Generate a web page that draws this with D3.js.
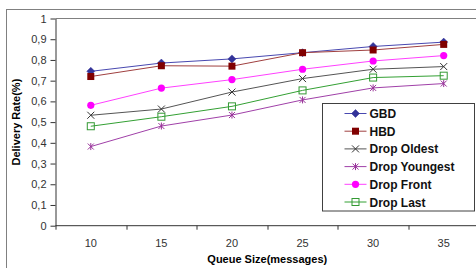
<!DOCTYPE html>
<html>
<head>
<meta charset="utf-8">
<script src="https://cdn.jsdelivr.net/npm/d3@7"></script>
<style>
  body { margin: 0; background: #fff; }
  svg { display: block; font-family: "Liberation Sans", Arial, sans-serif; }
</style>
</head>
<body>
<div id="chart"></div>
<script>
// chart data
const queueSizes = [10, 15, 20, 25, 30, 35];
const yTicks = [0, 0.1, 0.2, 0.3, 0.4, 0.5, 0.6, 0.7, 0.8, 0.9, 1];
const seriesNames = ["GBD", "HBD", "Drop Oldest", "Drop Youngest", "Drop Front", "Drop Last"];
const gbd = [0.745, 0.785, 0.805, 0.835, 0.865, 0.886];
const hbd = [0.72, 0.772, 0.77, 0.835, 0.848, 0.875];
const dropOldest = [0.533, 0.563, 0.645, 0.71, 0.755, 0.768];
const dropYoungest = [0.382, 0.481, 0.534, 0.607, 0.665, 0.686];
const dropFront = [0.581, 0.664, 0.705, 0.755, 0.795, 0.821];
const dropLast = [0.48, 0.526, 0.576, 0.653, 0.715, 0.724];

const seriesValues = [gbd, hbd, dropOldest, dropYoungest, dropFront, dropLast];
const styles = [
    {line: "#4848b0", fill: "#333399", stroke: "#333399", shape: "diamond"},
    {line: "#a04040", fill: "#800000", stroke: "#800000", shape: "square"},
    {line: "#555555", fill: "none", stroke: "#333333", shape: "x"},
    {line: "#a040a8", fill: "none", stroke: "#993399", shape: "star"},
    {line: "#ff40ff", fill: "#ff00ff", stroke: "#ff00ff", shape: "circle"},
    {line: "#33a033", fill: "#fff", stroke: "#339933", shape: "hollow"}
];

const width = 476, height = 268;
const margin = {top: 18.5, left: 55.5, right: -3, bottom: 42};

const svg = d3.select("#chart").append("svg")
    .attr("width", width)
    .attr("height", height);

// outer chart frame
svg.append("rect")
    .attr("x", 6.5).attr("y", 9.5)
    .attr("width", 500).attr("height", 300)
    .attr("fill", "#fff")
    .attr("stroke", "#808080");

const plotW = width - margin.left - margin.right;
const plotH = 225.7 - margin.top;

const g = svg.append("g")
    .attr("transform", "translate(" + margin.left + "," + margin.top + ")");

const xScale = d3.scaleBand().domain(queueSizes).range([0, plotW]);
const yScale = d3.scaleLinear().domain([0, 1]).range([plotH, 0]);

// plot area top border
g.append("line")
    .attr("x1", 0).attr("x2", plotW)
    .attr("y1", 0).attr("y2", 0)
    .attr("stroke", "#808080");

// y axis
const yAxis = g.append("g")
    .call(d3.axisLeft(yScale).tickValues(yTicks).tickSize(5).tickSizeOuter(0)
        .tickFormat(d => d3.format("")(d).replace(".", ",")));
yAxis.select(".domain").attr("stroke", "#333");
yAxis.selectAll(".tick line").attr("stroke", "#333");
yAxis.selectAll("text")
    .attr("x", -9)
    .attr("font-size", 11)
    .attr("font-family", "Liberation Sans, Arial, sans-serif")
    .attr("fill", "#333");

// x axis: ticks between categories
const xAxisG = g.append("g")
    .attr("transform", "translate(0," + plotH + ")");
xAxisG.append("line")
    .attr("x1", 0).attr("x2", plotW)
    .attr("stroke", "#333");
const bounds = queueSizes.map(d => xScale(d)).concat([plotW]);
xAxisG.selectAll(".xtick")
    .data(bounds)
    .join("line")
    .attr("class", "xtick")
    .attr("x1", d => Math.round(d) + 0.5).attr("x2", d => Math.round(d) + 0.5)
    .attr("y1", 0).attr("y2", 4)
    .attr("stroke", "#333");
xAxisG.selectAll(".xlabel")
    .data(queueSizes)
    .join("text")
    .attr("class", "xlabel")
    .attr("x", d => xScale(d) + xScale.bandwidth() / 2)
    .attr("y", 21)
    .attr("text-anchor", "middle")
    .attr("font-size", 11)
    .attr("fill", "#333")
    .text(d => d);

// axis titles
svg.append("text")
    .attr("x", margin.left + plotW / 2)
    .attr("y", 263)
    .attr("text-anchor", "middle")
    .attr("font-size", 11)
    .attr("font-weight", "bold")
    .text("Queue Size(messages)");

svg.append("text")
    .attr("transform", "translate(20," + (margin.top + plotH / 2) + ") rotate(-90)")
    .attr("text-anchor", "middle")
    .attr("font-size", 11)
    .attr("font-weight", "bold")
    .text("Delivery Rate(%)");

// marker drawing
function drawMarker(sel, st) {
    if (st.shape === "diamond") {
        sel.append("path").attr("d", "M0,-4L4,0L0,4L-4,0Z")
            .attr("fill", st.fill).attr("stroke", st.stroke).attr("stroke-width", 0.5);
    } else if (st.shape === "square") {
        sel.append("rect").attr("x", -3.5).attr("y", -3.5).attr("width", 7).attr("height", 7)
            .attr("fill", st.fill);
    } else if (st.shape === "circle") {
        sel.append("circle").attr("r", 3.6).attr("fill", st.fill);
    } else if (st.shape === "hollow") {
        sel.append("rect").attr("x", -3.5).attr("y", -3.5).attr("width", 7).attr("height", 7)
            .attr("fill", "none").attr("stroke", st.stroke).attr("stroke-width", 1);
    } else if (st.shape === "x") {
        sel.append("path").attr("d", "M-3.5,-3.5L3.5,3.5M-3.5,3.5L3.5,-3.5")
            .attr("stroke", st.stroke).attr("stroke-width", 1).attr("fill", "none");
    } else if (st.shape === "star") {
        sel.append("path").attr("d", "M-3,-3L3,3M-3,3L3,-3M0,-3.5L0,3.5")
            .attr("stroke", st.stroke).attr("stroke-width", 1).attr("fill", "none");
    }
}

const line = d3.line()
    .x((d, i) => xScale(queueSizes[i]) + xScale.bandwidth() / 2)
    .y(d => yScale(d));

// draw in an order so GBD/HBD sit on top like the reference
const order = [5, 3, 2, 4, 0, 1];
order.forEach(si => {
    const st = styles[si];
    const values = seriesValues[si];
    g.append("path")
        .datum(values)
        .attr("d", line)
        .attr("fill", "none")
        .attr("stroke", st.line)
        .attr("stroke-width", 1);
    g.selectAll(".pt" + si)
        .data(values)
        .join("g")
        .attr("class", "pt" + si)
        .attr("transform", (d, i) => "translate(" + (xScale(queueSizes[i]) + xScale.bandwidth() / 2) + "," + yScale(d) + ")")
        .each(function () { drawMarker(d3.select(this), st); });
});

// legend
const legend = svg.append("g").attr("transform", "translate(322.5,103.5)");
legend.append("rect")
    .attr("width", 152).attr("height", 107.5)
    .attr("fill", "#fff")
    .attr("stroke", "#404040");
const rows = legend.selectAll(".leg")
    .data(seriesNames)
    .join("g")
    .attr("class", "leg")
    .attr("transform", (d, i) => "translate(0," + (10 + i * 17.7) + ")");
rows.append("line")
    .attr("x1", 22).attr("x2", 44)
    .attr("stroke", (d, i) => styles[i].line);
rows.append("g")
    .attr("transform", "translate(33,0)")
    .each(function (d, i) { drawMarker(d3.select(this), styles[i]); });
rows.append("text")
    .attr("x", 47)
    .attr("y", 4.5)
    .attr("font-size", 12)
    .attr("font-weight", "bold")
    .attr("fill", "#111")
    .text(d => d);
</script>
</body>
</html>
